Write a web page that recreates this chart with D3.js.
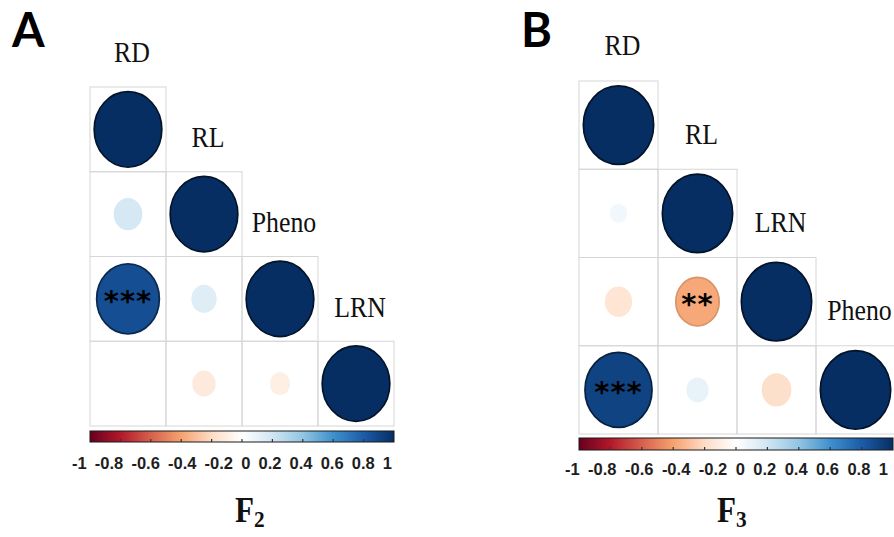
<!DOCTYPE html>
<html>
<head>
<meta charset="utf-8">
<script src="https://cdn.jsdelivr.net/npm/d3@7"></script>
<style>
  body { margin: 0; background: #fff; }
  svg { display: block; }
</style>
</head>
<body>
<svg id="chart" width="894" height="537"></svg>
<script>
// Trait order in each correlation matrix
const varsF2 = ["RD", "RL", "Pheno", "LRN"];
const varsF3 = ["RD", "RL", "LRN", "Pheno"];

// Lower-triangle Pearson correlations (row i holds columns 0..i)
const corrF2 = [
  [1],
  [0.18, 1],
  [0.86, 0.14, 1],
  [0.01, -0.12, -0.09, 1]
];
const corrF3 = [
  [1],
  [0.06, 1],
  [-0.15, -0.38, 1],
  [0.91, 0.10, -0.18, 1]
];

// Significance marks for the same cells
const sigF2 = [
  [""],
  ["", ""],
  ["***", "", ""],
  ["", "", "", ""]
];
const sigF3 = [
  [""],
  ["", ""],
  ["", "**", ""],
  ["***", "", "", ""]
];

// Colour legend ticks
const legendTicks = [-1, -0.8, -0.6, -0.4, -0.2, 0, 0.2, 0.4, 0.6, 0.8, 1];
const legendLabels = ["-1", "-0.8", "-0.6", "-0.4", "-0.2", "0", "0.2", "0.4", "0.6", "0.8", "1"];

const panelLetters = ["A", "B"];
const generations = ["2", "3"];

// Diverging red-white-blue palette from -1 to 1
const palette = ["#67001F", "#B2182B", "#D6604D", "#F5A26F", "#FDDCC6", "#FFFFFF",
                 "#D1E5F2", "#92C5E2", "#3F90CC", "#1C5CA8", "#062E63"];
const color = d3.scaleLinear()
  .domain(palette.map((_, i) => -1 + i * 0.2))
  .range(palette)
  .interpolate(d3.interpolateRgb);

const svg = d3.select("#chart");
const defs = svg.append("defs");
const squeeze = 0.89;

const panels = [
  { vars: varsF2, corr: corrF2, sig: sigF2, letter: panelLetters[0], gen: generations[0],
    gx: [90, 394], gy: [87, 426], bar: [431, 442], barX: [90, 394], labSpan: [72, 392], labY: 469,
    letterX: 12, titleX: 235 },
  { vars: varsF3, corr: corrF3, sig: sigF3, letter: panelLetters[1], gen: generations[1],
    gx: [579, 895], gy: [81, 434], bar: [438, 450], barX: [579, 893], labSpan: [565, 888], labY: 475,
    letterX: 521, titleX: 717 }
];

panels.forEach((p, pi) => {
  const g = svg.append("g");
  const x = d3.scaleBand().domain(d3.range(p.vars.length)).range(p.gx);
  const y = d3.scaleBand().domain(d3.range(p.vars.length)).range(p.gy);
  const bw = x.bandwidth(), bh = y.bandwidth();

  const cells = [];
  p.corr.forEach((row, i) => row.forEach((r, j) => cells.push({ i, j, r, s: p.sig[i][j] })));

  // cell grid
  g.selectAll("rect.cell").data(cells).join("rect")
    .attr("class", "cell")
    .attr("x", d => x(d.j)).attr("y", d => y(d.i))
    .attr("width", bw).attr("height", bh)
    .attr("fill", "none").attr("stroke", "#d6d6d6").attr("stroke-width", 1);

  // correlation ellipses: area proportional to |r|
  const k = 0.445;
  g.selectAll("ellipse").data(cells.filter(d => Math.abs(d.r) > 0.001)).join("ellipse")
    .attr("cx", d => x(d.j) + bw / 2)
    .attr("cy", d => y(d.i) + bh / 2)
    .attr("rx", d => k * bw * Math.sqrt(Math.abs(d.r)))
    .attr("ry", d => k * bh * Math.sqrt(Math.abs(d.r)))
    .attr("fill", d => color(d.r))
    .attr("stroke", d => d3.color(color(d.r)).darker(2.4 * d.r * d.r).formatHex())
    .attr("stroke-width", d => Math.abs(d.r) > 0.3 ? 1.7 : 0);

  // significance stars
  g.selectAll("text.sig").data(cells.filter(d => d.s)).join("text")
    .attr("class", "sig")
    .attr("x", d => x(d.j) + bw / 2)
    .attr("y", d => y(d.i) + bh / 2 + 12)
    .attr("text-anchor", "middle")
    .attr("font-family", "DejaVu Sans")
    .attr("font-weight", "bold")
    .attr("font-size", 29)
    .attr("letter-spacing", 1)
    .attr("fill", "#000")
    .text(d => d.s);

  // variable names along the diagonal
  g.selectAll("text.var").data(p.vars).join("text")
    .attr("class", "var")
    .attr("transform", (d, i) => `translate(${x(i) + bw / 2 + 4},${y(i) - 0.29 * bh}) scale(${squeeze},1)`)
    .attr("text-anchor", "middle")
    .attr("font-family", "Liberation Serif")
    .attr("font-size", 29)
    .attr("fill", "#111")
    .text(d => d);

  // colour legend
  const gid = "grad" + pi;
  const grad = defs.append("linearGradient").attr("id", gid).attr("x1", "0%").attr("x2", "100%");
  palette.forEach((c, i) => grad.append("stop").attr("offset", (i * 10) + "%").attr("stop-color", c));
  const lx = d3.scaleLinear().domain([-1, 1]).range(p.barX);
  g.append("rect")
    .attr("x", p.barX[0]).attr("y", p.bar[0])
    .attr("width", p.barX[1] - p.barX[0]).attr("height", p.bar[1] - p.bar[0])
    .attr("fill", `url(#${gid})`).attr("stroke", "#1a1a1a").attr("stroke-width", 1);
  g.selectAll("line.tick").data(legendTicks.slice(1, -1)).join("line")
    .attr("class", "tick")
    .attr("x1", d => lx(d)).attr("x2", d => lx(d))
    .attr("y1", p.bar[1] - 3).attr("y2", p.bar[1])
    .attr("stroke", "#333").attr("stroke-width", 1.2);

  // legend labels laid out as one evenly gapped row under the bar
  const labels = g.selectAll("text.tl").data(legendTicks).join("text")
    .attr("class", "tl")
    .attr("y", p.labY)
    .attr("font-family", "Liberation Sans")
    .attr("font-weight", "bold")
    .attr("font-size", 16.5)
    .attr("fill", "#1e1e1e")
    .text((d, i) => legendLabels[i]);
  const widths = labels.nodes().map(n => n.getComputedTextLength());
  const gap = (p.labSpan[1] - p.labSpan[0] - d3.sum(widths)) / (widths.length - 1);
  let cursor = p.labSpan[0];
  labels.attr("x", (d, i) => { const xi = cursor; cursor += widths[i] + gap; return xi; });

  // panel letter
  g.append("text")
    .attr("x", p.letterX).attr("y", 47)
    .attr("font-family", "Lato").attr("font-weight", 700)
    .attr("font-size", 47).attr("fill", "#000")
    .text(p.letter);

  // generation title
  const t = g.append("text")
    .attr("transform", `translate(${p.titleX},522) scale(${squeeze},1)`)
    .attr("font-family", "Liberation Serif").attr("font-weight", "bold")
    .attr("font-size", 35).attr("fill", "#111");
  t.append("tspan").text("F");
  t.append("tspan").attr("dy", 5).attr("font-size", 24).text(p.gen);
});
</script>
</body>
</html>
